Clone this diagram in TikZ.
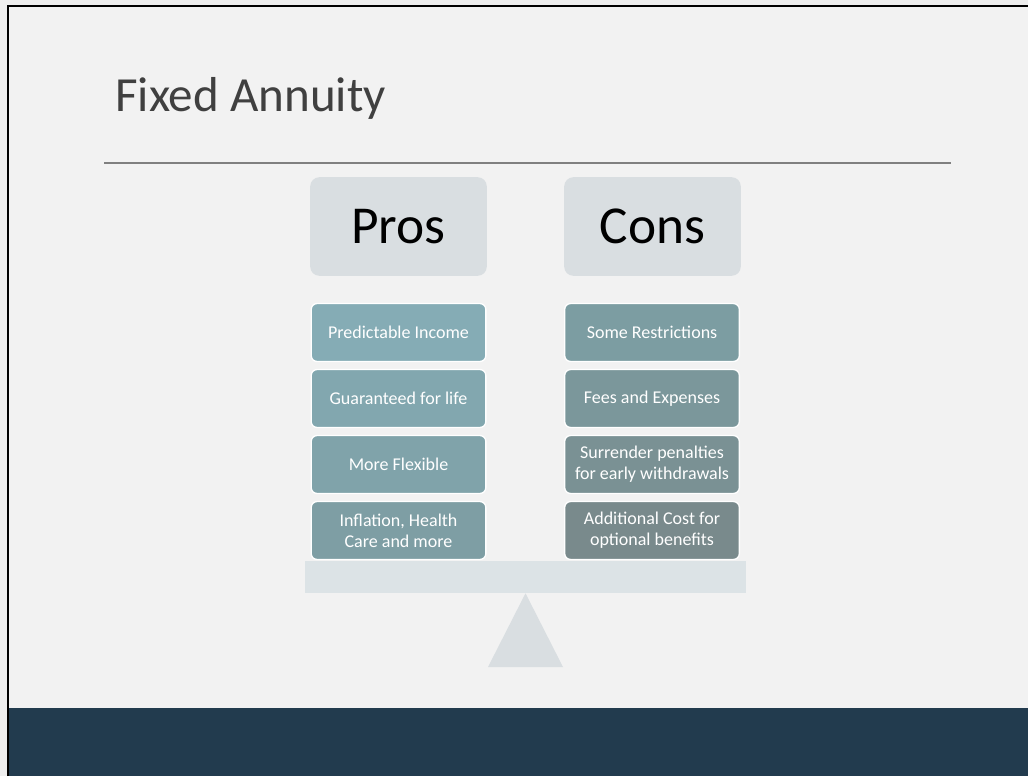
\documentclass[tikz,border=0pt]{standalone}
\usepackage{fontspec}
\setmainfont{Carlito}
\usepackage{tikz}
\usetikzlibrary{positioning}

\definecolor{pagebg}{HTML}{EEEEEE}
\definecolor{slidebg}{HTML}{F2F2F2}
\definecolor{band}{HTML}{223B4E}
\definecolor{titlegray}{HTML}{404040}
\definecolor{headfill}{HTML}{D9DEE1}
\definecolor{beamfill}{HTML}{DCE3E6}
\definecolor{pro1}{HTML}{85ACB5}
\definecolor{pro2}{HTML}{82A7AF}
\definecolor{pro3}{HTML}{80A3AA}
\definecolor{pro4}{HTML}{7E9EA4}
\definecolor{con1}{HTML}{7C9DA2}
\definecolor{con2}{HTML}{7B979B}
\definecolor{con3}{HTML}{7A9194}
\definecolor{con4}{HTML}{798A8C}

\begin{document}
\begin{tikzpicture}[x=0.75pt,y=-0.75pt]
      \tikzstyle{hnode} = [rectangle, rounded corners = 7pt, fill=headfill, minimum width = 132.5pt, minimum height = 74pt, font=\fontsize{40}{44}\selectfont]
      \tikzstyle{inode} = [rectangle, rounded corners = 4.5pt, draw=white, line width = 1pt, minimum width = 131pt, minimum height = 43.5pt, inner sep = 1pt, text=white, align=center, font=\fontsize{13.5}{15.5}\selectfont]

      % slide background, frame and footer band
      \useasboundingbox (0,0) rectangle (1028,776);
      \fill[pagebg] (0,0) rectangle (1028,776);
      \fill[slidebg] (8,6) rectangle (1028,776);
      \fill[band] (8,708) rectangle (1028,776);
      \draw[line width=1.5pt] (8,776) -- (8,6) -- (1028,6);

      \node[anchor=base west, inner sep=0, text=titlegray, font=\fontsize{36.8}{40}\selectfont] (title) at (115,111) {Fixed Annuity};
      \coordinate (ruleL) at (104,163);
      \coordinate (ruleR) at (951,163);
      \draw[line width=1.1pt, gray] (ruleL) -- (ruleR);

      \node[hnode] (pros) at (398.5,226.5) {Pros};
      \node[hnode] (cons) at (652.5,226.5) {Cons};

      \node[inode, fill=pro1] (p1) at (398.5,332.5) {Predictable Income};
      \node[inode, fill=pro2, below=5pt of p1] (p2) {Guaranteed for life};
      \node[inode, fill=pro3, below=5pt of p2] (p3) {More Flexible};
      \node[inode, fill=pro4, below=5pt of p3] (p4) {Inflation, Health\\ Care and more};

      \node[inode, fill=con1] (c1) at (652,332.5) {Some Restrictions};
      \node[inode, fill=con2, below=5pt of c1] (c2) {Fees and Expenses};
      \node[inode, fill=con3, below=5pt of c2] (c3) {Surrender penalties\\ for early withdrawals};
      \node[inode, fill=con4, below=5pt of c3] (c4) {Additional Cost for\\ optional benefits};

      % the balance: beam and pivot
      \node[rectangle, fill=beamfill, minimum width = 331pt, minimum height = 24pt, inner sep = 0] (beam) at (525.5,577) {};
      \fill[headfill] (beam.south) -- (563,667) -- (488,667) -- cycle;
\end{tikzpicture}
\end{document}
